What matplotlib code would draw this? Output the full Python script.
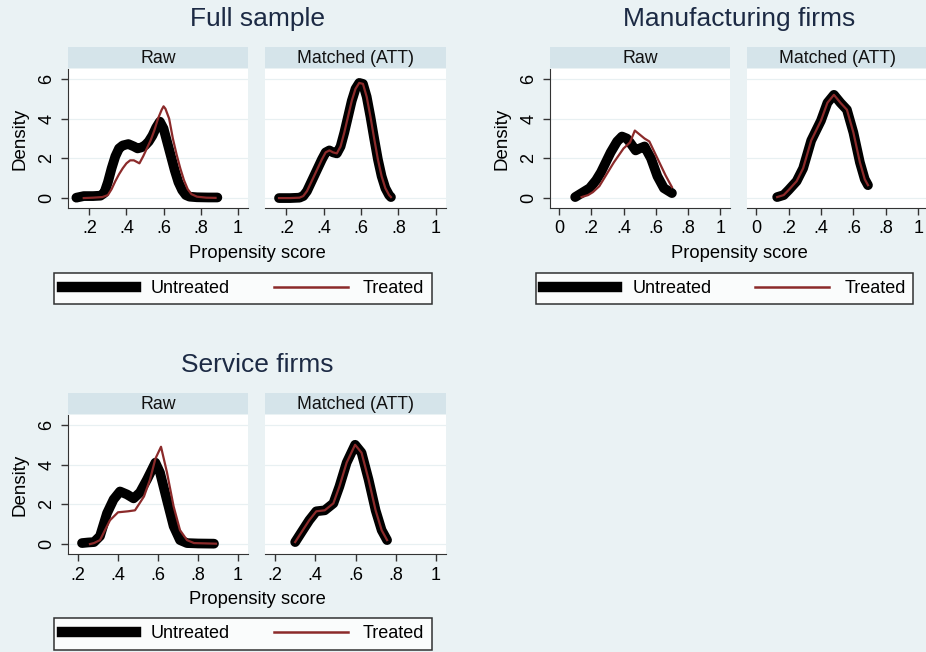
import matplotlib
matplotlib.use("Agg")
import matplotlib.pyplot as plt
from matplotlib.lines import Line2D

plt.rcParams['font.family'] = ['Liberation Sans', 'DejaVu Sans']

# ---- data (kernel density of propensity score) ----
# Full sample
full_raw_untr_x = [0.13, 0.17, 0.22, 0.26, 0.28, 0.30, 0.32, 0.34, 0.36, 0.38, 0.41, 0.44, 0.46, 0.48, 0.50,
                   0.52, 0.54, 0.56, 0.58, 0.60, 0.62, 0.64, 0.66, 0.68, 0.70, 0.72, 0.74, 0.78, 0.84, 0.89]
full_raw_untr_y = [0.02, 0.1, 0.1, 0.12, 0.25, 0.8, 1.5, 2.1, 2.5, 2.65, 2.72, 2.6, 2.5, 2.55, 2.65,
                   2.85, 3.15, 3.55, 3.85, 3.5, 2.8, 2.1, 1.4, 0.8, 0.4, 0.15, 0.07, 0.04, 0.03, 0.03]
full_raw_trt_x = [0.17, 0.22, 0.27, 0.30, 0.32, 0.34, 0.36, 0.38, 0.40, 0.42, 0.44, 0.46, 0.47, 0.49, 0.51,
                  0.53, 0.55, 0.57, 0.59, 0.60, 0.61, 0.63, 0.65, 0.67, 0.69, 0.71, 0.73, 0.75, 0.78, 0.83, 0.88]
full_raw_trt_y = [0.0, 0.02, 0.05, 0.15, 0.45, 0.85, 1.2, 1.5, 1.75, 1.9, 1.9, 1.8, 1.75, 2.1, 2.5,
                  2.9, 3.4, 4.0, 4.45, 4.62, 4.5, 4.0, 3.0, 2.2, 1.5, 0.9, 0.45, 0.2, 0.07, 0.02, 0.01]
full_att_x = [0.16, 0.22, 0.27, 0.29, 0.31, 0.33, 0.35, 0.37, 0.39, 0.41, 0.43, 0.45, 0.47, 0.49,
              0.51, 0.53, 0.55, 0.57, 0.59, 0.61, 0.63, 0.65, 0.67, 0.69, 0.71, 0.73, 0.75, 0.76]
full_att_untr_y = [0.0, 0.0, 0.02, 0.1, 0.35, 0.75, 1.15, 1.55, 1.95, 2.3, 2.4, 2.3, 2.25, 2.6,
                   3.3, 4.1, 4.9, 5.5, 5.8, 5.75, 5.1, 4.1, 3.0, 1.95, 1.1, 0.5, 0.15, 0.05]
full_att_trt_y = [0.0, 0.0, 0.02, 0.1, 0.35, 0.75, 1.15, 1.55, 1.95, 2.3, 2.4, 2.3, 2.25, 2.6,
                  3.3, 4.1, 4.9, 5.5, 5.8, 5.75, 5.1, 4.1, 3.0, 1.95, 1.1, 0.5, 0.15, 0.05]

# Manufacturing firms
manu_raw_untr_x = [0.10, 0.14, 0.19, 0.23, 0.26, 0.29, 0.32, 0.36, 0.39, 0.42, 0.44, 0.475, 0.50,
                   0.53, 0.57, 0.61, 0.65, 0.70]
manu_raw_untr_y = [0.05, 0.25, 0.5, 0.9, 1.3, 1.8, 2.3, 2.85, 3.1, 3.0, 2.8, 2.4, 2.5,
                   2.6, 2.0, 1.1, 0.5, 0.25]
manu_raw_trt_x = [0.14, 0.18, 0.21, 0.25, 0.28, 0.31, 0.34, 0.37, 0.40, 0.44, 0.47, 0.50, 0.53,
                  0.56, 0.61, 0.66, 0.70]
manu_raw_trt_y = [0.05, 0.15, 0.3, 0.6, 1.0, 1.4, 1.8, 2.15, 2.5, 2.8, 3.4, 3.2, 3.0,
                  2.85, 2.0, 1.15, 0.55]
manu_att_x = [0.13, 0.17, 0.20, 0.25, 0.29, 0.34, 0.40, 0.44, 0.48, 0.52, 0.56, 0.60, 0.64, 0.67, 0.69]
manu_att_untr_y = [0.05, 0.15, 0.4, 0.85, 1.5, 2.9, 3.9, 4.8, 5.2, 4.8, 4.45, 3.3, 1.8, 0.95, 0.65]
manu_att_trt_y = [0.05, 0.15, 0.4, 0.85, 1.5, 2.9, 3.9, 4.8, 5.2, 4.8, 4.45, 3.3, 1.8, 0.95, 0.65]

# Service firms
serv_raw_untr_x = [0.22, 0.25, 0.28, 0.31, 0.345, 0.378, 0.41, 0.445, 0.478, 0.51, 0.545, 0.587,
                   0.61, 0.645, 0.678, 0.71, 0.745, 0.80, 0.88]
serv_raw_untr_y = [0.05, 0.08, 0.1, 0.4, 1.55, 2.25, 2.65, 2.5, 2.3, 2.6, 3.25, 4.1,
                   3.6, 2.2, 0.9, 0.2, 0.05, 0.03, 0.02]
serv_raw_trt_x = [0.26, 0.28, 0.31, 0.36, 0.40, 0.45, 0.485, 0.53, 0.56, 0.587, 0.615, 0.645,
                  0.678, 0.71, 0.745, 0.78, 0.89]
serv_raw_trt_y = [0.0, 0.05, 0.2, 1.2, 1.6, 1.65, 1.7, 2.4, 3.25, 4.3, 4.9, 3.6,
                  1.9, 0.7, 0.2, 0.05, 0.02]
serv_att_x = [0.30, 0.338, 0.37, 0.405, 0.447, 0.49, 0.52, 0.556, 0.598, 0.63, 0.665, 0.70, 0.73, 0.757]
serv_att_untr_y = [0.1, 0.7, 1.2, 1.65, 1.7, 2.05, 2.9, 4.1, 5.0, 4.6, 3.25, 1.7, 0.7, 0.2]
serv_att_trt_y = [0.1, 0.7, 1.2, 1.65, 1.7, 2.05, 2.9, 4.1, 5.0, 4.6, 3.25, 1.7, 0.7, 0.2]

panel_titles = ["Raw", "Matched (ATT)"]
legend_labels = ["Untreated", "Treated"]
y_ticks = [0, 2, 4, 6]

# ---- style ----
W, H = 926, 652
bg = '#eaf2f4'
strip_col = '#d5e4ea'
grid_col = '#e8f0f2'
untr_col = 'black'
trt_col = '#8b2a2a'
spine_col = '#333333'

fig = plt.figure(figsize=(W / 100, H / 100), dpi=100, facecolor=bg)


def px(l, t, r, b):
    return [l / W, 1 - b / H, (r - l) / W, (b - t) / H]


def make_panel(box, title, xlim, xticks, xlabels, first, curves):
    l, t, r, b = box
    ax = fig.add_axes(px(l, t, r, b))
    ax.set_facecolor('white')
    ax.set_xlim(*xlim)
    ax.set_ylim(-0.5, 6.5)
    for y in y_ticks:
        ax.axhline(y, color=grid_col, lw=0.9, zorder=0)
    ux, uy, tx, ty = curves
    ax.plot(ux, uy, color=untr_col, lw=7, solid_capstyle='round', solid_joinstyle='round', zorder=2)
    ax.plot(tx, ty, color=trt_col, lw=1.6, solid_joinstyle='round', zorder=3)
    for s in ['top', 'right']:
        ax.spines[s].set_visible(False)
    ax.spines['bottom'].set_color(spine_col)
    ax.set_xticks(xticks)
    ax.set_xticklabels(xlabels, fontsize=13)
    ax.tick_params(axis='x', length=5, width=1, color=spine_col, pad=4)
    if first:
        ax.spines['left'].set_color(spine_col)
        ax.set_yticks(y_ticks)
        ax.set_yticklabels([str(v) for v in y_ticks], fontsize=13, rotation=90, va='center')
        ax.tick_params(axis='y', length=5, width=1, color=spine_col, pad=4)
    else:
        ax.spines['left'].set_visible(False)
        ax.set_yticks([])
    # strip on top
    sax = fig.add_axes(px(l, t - 22, r, t - 1))
    sax.set_facecolor(strip_col)
    sax.set_xticks([])
    sax.set_yticks([])
    for s in sax.spines.values():
        s.set_visible(False)
    sax.text(0.5, 0.45, title, ha='center', va='center', fontsize=12.8, color='#111111',
             transform=sax.transAxes)
    return ax


def make_group(name, left, top, xlim, xticks, xlabels, raw, att, legend_box):
    cx = (left + left + 378) / 2 / W
    fig.text(cx, 1 - (top - 50) / H, name, ha='center', va='center',
             fontsize=19, color='#1c2a44')
    a1 = make_panel((left, top, left + 180, top + 139), panel_titles[0], xlim, xticks, xlabels, True, raw)
    make_panel((left + 197, top, left + 378, top + 139), panel_titles[1], xlim, xticks, xlabels, False, att)
    a1.set_ylabel('Density', fontsize=13.5, labelpad=7)
    fig.text(cx, 1 - (top + 185) / H, 'Propensity score', ha='center',
             va='center', fontsize=13.2)
    handles = [Line2D([], [], color=untr_col, lw=7.5),
               Line2D([], [], color=trt_col, lw=1.8)]
    l, t, r, b = legend_box
    leg = fig.legend(handles, legend_labels, loc='center',
                     bbox_to_anchor=((l + r) / 2 / W, 1 - (t + b) / 2 / H),
                     ncol=2, fontsize=13, frameon=True, fancybox=False,
                     handlelength=4.1, handletextpad=0.85, columnspacing=2.4,
                     borderpad=0.4, borderaxespad=0)
    leg.get_frame().set_edgecolor('black')
    leg.get_frame().set_linewidth(1.1)
    leg.get_frame().set_facecolor('white')


lab_02 = ['.2', '.4', '.6', '.8', '1']
lab_00 = ['0', '.2', '.4', '.6', '.8', '1']

make_group('Full sample', 68, 69, (0.085, 1.055), [0.2, 0.4, 0.6, 0.8, 1.0], lab_02,
           (full_raw_untr_x, full_raw_untr_y, full_raw_trt_x, full_raw_trt_y),
           (full_att_x, full_att_untr_y, full_att_x, full_att_trt_y),
           (55, 272, 431, 305))
make_group('Manufacturing firms', 550, 69, (-0.056, 1.06), [0, 0.2, 0.4, 0.6, 0.8, 1.0], lab_00,
           (manu_raw_untr_x, manu_raw_untr_y, manu_raw_trt_x, manu_raw_trt_y),
           (manu_att_x, manu_att_untr_y, manu_att_x, manu_att_trt_y),
           (536, 272, 913, 305))
make_group('Service firms', 68, 415, (0.15, 1.05), [0.2, 0.4, 0.6, 0.8, 1.0], lab_02,
           (serv_raw_untr_x, serv_raw_untr_y, serv_raw_trt_x, serv_raw_trt_y),
           (serv_att_x, serv_att_untr_y, serv_att_x, serv_att_trt_y),
           (55, 617, 431, 651))

fig.savefig('out.png', dpi=100, facecolor=bg)
